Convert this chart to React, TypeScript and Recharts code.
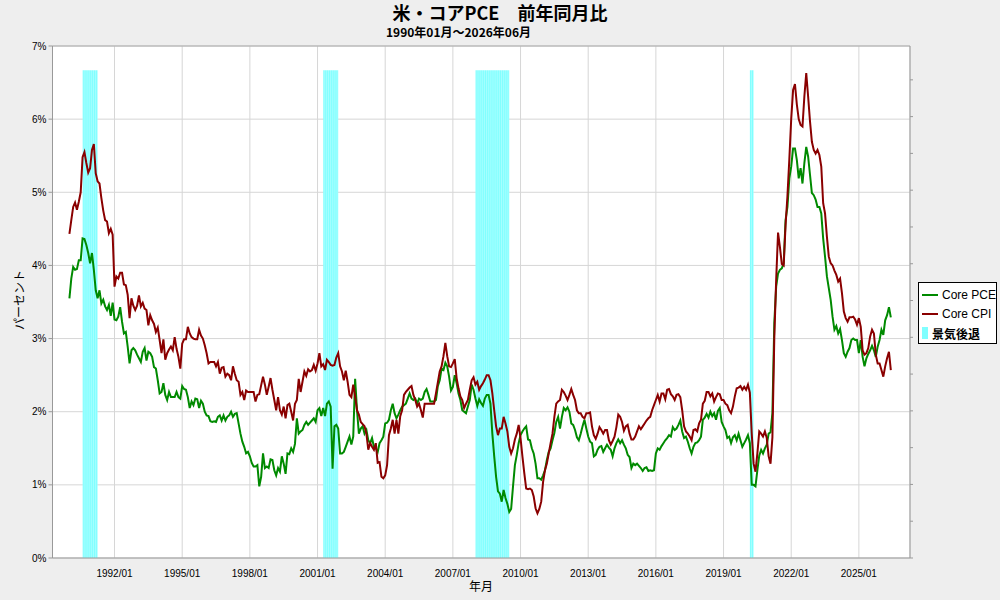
import React from 'react';
import { ComposedChart, Line, XAxis, YAxis, CartesianGrid, ReferenceArea, ReferenceLine } from 'recharts';

const startYear = 1990;

// 前年同月比 (%), 1990/01 から月次
const corePce = [
  3.55, 3.82, 3.98, 3.94, 3.95, 4.07, 4.07, 4.37, 4.36, 4.28, 4.17, 4.03, // 1990
  4.17, 3.94, 3.66, 3.55, 3.66, 3.48, 3.53, 3.44, 3.39, 3.46, 3.31, 3.49, // 1991
  3.26, 3.25, 3.30, 3.43, 3.23, 3.07, 3.09, 2.89, 2.66, 2.84, 2.87, 2.84, // 1992
  2.78, 2.73, 2.68, 2.82, 2.87, 2.70, 2.82, 2.80, 2.75, 2.61, 2.59, 2.43, // 1993
  2.25, 2.27, 2.39, 2.23, 2.16, 2.27, 2.20, 2.20, 2.20, 2.27, 2.20, 2.18, // 1994
  2.35, 2.31, 2.30, 2.20, 2.05, 2.14, 2.09, 2.18, 2.17, 2.05, 2.15, 2.11, // 1995
  2.00, 1.95, 1.94, 1.87, 1.86, 1.87, 1.86, 1.93, 1.95, 1.88, 1.95, 1.88, // 1996
  1.93, 1.95, 2.00, 1.93, 1.97, 1.98, 1.84, 1.70, 1.59, 1.52, 1.43, 1.45, // 1997
  1.39, 1.30, 1.25, 1.25, 1.27, 0.98, 1.11, 1.43, 1.23, 1.25, 1.23, 1.35, // 1998
  1.34, 1.20, 1.13, 1.23, 1.18, 1.39, 1.29, 1.15, 1.43, 1.42, 1.50, 1.45, // 1999
  1.56, 1.91, 1.70, 1.73, 1.75, 1.82, 1.86, 1.82, 1.85, 1.88, 1.91, 1.86, // 2000
  2.02, 2.05, 1.94, 2.05, 1.94, 2.11, 2.14, 2.07, 1.22, 1.80, 1.82, 1.77, // 2001
  1.43, 1.43, 1.45, 1.52, 1.59, 1.66, 1.55, 1.66, 2.45, 2.02, 1.70, 1.77, // 2002
  1.80, 1.70, 1.75, 1.61, 1.57, 1.64, 1.52, 1.50, 1.45, 1.57, 1.61, 1.66, // 2003
  1.84, 1.85, 1.89, 2.02, 2.11, 1.98, 1.91, 1.96, 2.02, 2.07, 2.09, 2.11, // 2004
  2.18, 2.25, 2.18, 2.16, 2.18, 2.11, 2.18, 2.16, 2.18, 2.27, 2.31, 2.23, // 2005
  2.14, 2.14, 2.14, 2.16, 2.35, 2.43, 2.59, 2.57, 2.67, 2.62, 2.48, 2.29, // 2006
  2.34, 2.50, 2.39, 2.25, 2.16, 2.02, 2.00, 1.98, 2.07, 2.16, 2.37, 2.30, // 2007
  2.18, 2.08, 2.17, 2.12, 2.08, 2.18, 2.23, 2.23, 2.11, 1.70, 1.39, 1.11, // 2008
  0.91, 0.88, 0.77, 0.93, 0.82, 0.74, 0.63, 0.67, 0.98, 1.27, 1.41, 1.57, // 2009
  1.68, 1.73, 1.77, 1.80, 1.62, 1.61, 1.50, 1.43, 1.29, 1.09, 1.09, 1.07, // 2010
  1.13, 1.20, 1.34, 1.45, 1.50, 1.61, 1.71, 1.86, 1.93, 1.77, 1.93, 2.05, // 2011
  2.02, 2.06, 2.00, 1.84, 1.82, 1.75, 1.65, 1.61, 1.70, 1.80, 1.89, 1.77, // 2012
  1.66, 1.59, 1.57, 1.39, 1.41, 1.48, 1.52, 1.53, 1.45, 1.50, 1.55, 1.51, // 2013
  1.48, 1.39, 1.50, 1.57, 1.62, 1.57, 1.61, 1.55, 1.50, 1.41, 1.38, 1.23, // 2014
  1.29, 1.27, 1.29, 1.26, 1.23, 1.19, 1.23, 1.24, 1.19, 1.20, 1.19, 1.20, // 2015
  1.43, 1.50, 1.48, 1.53, 1.57, 1.61, 1.64, 1.68, 1.66, 1.79, 1.75, 1.77, // 2016
  1.82, 1.88, 1.73, 1.64, 1.66, 1.59, 1.50, 1.43, 1.52, 1.57, 1.58, 1.61, // 2017
  1.66, 1.89, 1.92, 1.97, 1.92, 2.00, 1.94, 1.98, 1.89, 2.01, 2.05, 1.86, // 2018
  1.80, 1.75, 1.64, 1.66, 1.57, 1.65, 1.68, 1.61, 1.70, 1.61, 1.52, 1.57, // 2019
  1.62, 1.68, 1.57, 1.00, 1.00, 0.98, 1.20, 1.40, 1.48, 1.43, 1.50, 1.55, // 2020
  1.70, 1.72, 1.98, 3.21, 3.71, 3.89, 3.94, 3.96, 4.03, 4.62, 4.80, 5.19, // 2021
  5.35, 5.60, 5.60, 5.44, 5.19, 5.33, 5.12, 5.40, 5.62, 5.49, 5.24, 4.99, // 2022
  4.96, 4.90, 4.80, 4.80, 4.71, 4.37, 4.12, 3.85, 3.69, 3.53, 3.30, 3.12, // 2023
  3.17, 3.07, 3.13, 2.98, 2.80, 2.75, 2.82, 2.87, 2.98, 3.00, 2.98, 2.98, // 2024
  2.80, 2.98, 2.75, 2.62, 2.73, 2.79, 2.84, 2.90, 2.84, 2.75, 2.89, 2.98, // 2025
  3.12, 3.05, 3.25, 3.32, 3.43, 3.29, // 2026
];

const coreCpi = [
  4.43, 4.62, 4.80, 4.86, 4.76, 4.87, 5.00, 5.48, 5.55, 5.40, 5.27, 5.33, // 1990
  5.58, 5.66, 5.26, 5.15, 5.12, 4.92, 4.75, 4.62, 4.60, 4.44, 4.50, 4.42, // 1991
  3.71, 3.85, 3.82, 3.90, 3.90, 3.74, 3.73, 3.60, 3.28, 3.55, 3.45, 3.39, // 1992
  3.45, 3.59, 3.44, 3.49, 3.41, 3.39, 3.18, 3.32, 3.25, 3.20, 3.09, 3.15, // 1993
  2.98, 2.80, 2.99, 2.71, 2.80, 2.85, 2.89, 2.84, 3.02, 2.86, 2.75, 2.59, // 1994
  2.93, 2.99, 2.99, 3.16, 3.07, 3.02, 3.00, 2.99, 2.99, 3.12, 3.04, 3.00, // 1995
  2.91, 2.80, 2.66, 2.68, 2.68, 2.68, 2.62, 2.68, 2.52, 2.60, 2.61, 2.48, // 1996
  2.52, 2.50, 2.43, 2.62, 2.52, 2.43, 2.41, 2.23, 2.27, 2.16, 2.29, 2.27, // 1997
  2.27, 2.27, 2.27, 2.14, 2.23, 2.24, 2.36, 2.48, 2.37, 2.23, 2.34, 2.46, // 1998
  2.30, 2.16, 2.02, 2.20, 2.02, 1.96, 2.07, 1.91, 2.09, 2.11, 2.00, 1.88, // 1999
  2.11, 2.16, 2.45, 2.27, 2.41, 2.55, 2.49, 2.58, 2.55, 2.57, 2.64, 2.56, // 2000
  2.66, 2.80, 2.62, 2.65, 2.57, 2.71, 2.68, 2.64, 2.63, 2.64, 2.74, 2.80, // 2001
  2.62, 2.55, 2.43, 2.56, 2.41, 2.23, 2.20, 2.37, 2.21, 2.02, 1.96, 1.86, // 2002
  1.83, 1.80, 1.70, 1.48, 1.57, 1.52, 1.48, 1.57, 1.30, 1.31, 1.11, 1.09, // 2003
  1.13, 1.27, 1.68, 1.77, 1.89, 1.70, 1.89, 1.70, 1.94, 2.02, 2.23, 2.27, // 2004
  2.30, 2.33, 2.35, 2.23, 2.16, 2.07, 2.11, 2.02, 1.92, 2.11, 2.11, 2.11, // 2005
  2.11, 2.11, 2.11, 2.25, 2.40, 2.55, 2.62, 2.76, 2.94, 2.76, 2.62, 2.61, // 2006
  2.66, 2.72, 2.46, 2.32, 2.21, 2.16, 2.05, 2.11, 2.16, 2.30, 2.43, 2.47, // 2007
  2.37, 2.41, 2.30, 2.35, 2.39, 2.44, 2.50, 2.50, 2.43, 2.25, 2.02, 1.80, // 2008
  1.68, 1.77, 1.77, 1.93, 1.84, 1.73, 1.52, 1.43, 1.50, 1.62, 1.70, 1.82, // 2009
  1.64, 1.39, 1.16, 0.95, 0.94, 0.95, 0.93, 0.84, 0.68, 0.61, 0.67, 0.77, // 2010
  1.04, 1.20, 1.29, 1.43, 1.57, 1.70, 1.93, 2.11, 2.14, 2.16, 2.30, 2.27, // 2011
  2.22, 2.16, 2.23, 2.31, 2.23, 2.16, 2.02, 1.98, 1.98, 1.93, 1.91, 1.98, // 2012
  1.98, 1.99, 1.80, 1.68, 1.63, 1.70, 1.79, 1.75, 1.70, 1.75, 1.75, 1.61, // 2013
  1.55, 1.60, 1.66, 1.79, 1.96, 1.93, 1.86, 1.74, 1.80, 1.82, 1.70, 1.62, // 2014
  1.62, 1.66, 1.73, 1.80, 1.76, 1.80, 1.84, 1.88, 1.91, 1.93, 2.02, 2.09, // 2015
  2.16, 2.23, 2.14, 2.25, 2.25, 2.17, 2.30, 2.31, 2.24, 2.21, 2.16, 2.23, // 2016
  2.24, 2.20, 2.02, 1.80, 1.73, 1.70, 1.66, 1.61, 1.75, 1.76, 1.73, 1.84, // 2017
  1.89, 2.11, 2.15, 2.27, 2.27, 2.21, 2.25, 2.14, 2.20, 2.25, 2.24, 2.16, // 2018
  2.16, 2.11, 2.09, 2.02, 1.98, 2.07, 2.21, 2.32, 2.33, 2.35, 2.30, 2.34, // 2019
  2.30, 2.37, 2.26, 1.70, 1.29, 1.18, 1.43, 1.73, 1.70, 1.66, 1.73, 1.64, // 2020
  1.39, 1.29, 1.65, 3.00, 3.80, 4.45, 4.25, 4.02, 4.00, 4.55, 4.95, 5.45, // 2021
  6.00, 6.40, 6.48, 6.20, 6.00, 5.92, 5.90, 6.31, 6.63, 6.31, 5.97, 5.69, // 2022
  5.58, 5.53, 5.58, 5.51, 5.35, 4.85, 4.71, 4.39, 4.12, 4.03, 4.00, 3.93, // 2023
  3.87, 3.78, 3.82, 3.62, 3.37, 3.28, 3.23, 3.29, 3.29, 3.30, 3.26, 3.19, // 2024
  3.28, 3.16, 2.84, 2.78, 2.80, 2.87, 3.03, 3.12, 3.07, 2.78, 2.66, 2.66, // 2025
  2.57, 2.48, 2.62, 2.73, 2.82, 2.57, // 2026
];

const tickYears = [1992, 1995, 1998, 2001, 2004, 2007, 2010, 2013, 2016, 2019, 2022, 2025];
const percentTicks = [0, 1, 2, 3, 4, 5, 6, 7];
const rightTicks = [0, 1, 2, 3, 4, 5, 6, 7, 8, 9, 10, 11, 12, 13];

// 景気後退期 (開始月, 終了月)
const recessions = [
  ['1990/08', '1991/03'],
  ['2001/04', '2001/11'],
  ['2008/01', '2009/06'],
  ['2020/03', '2020/04'],
];
const recessionTop = 6.67;

const monthIndex = (s: string) => {
  const [y, m] = s.split('/').map(Number);
  return (y - startYear) * 12 + (m - 1);
};

const data = corePce.map((v, i) => ({ m: i, pce: v, cpi: coreCpi[i] }));

const tickFont = { fontSize: 10, fill: '#000', fontFamily: "'Liberation Sans', Arial, sans-serif" };
const jpFont = "'Noto Sans CJK JP', sans-serif";

const App: React.FC = () => {
  return (
    <div style={{ position: 'absolute', left: 0, top: 0, width: 1000, height: 600, background: '#eeeeee', overflow: 'hidden' }}>
      <div style={{ position: 'absolute', top: 2, left: 0, width: 1000, textAlign: 'center', fontFamily: jpFont, fontWeight: 700, fontSize: 18, lineHeight: '21px' }}>
        米・コアPCE　前年同月比
      </div>
      <div style={{ position: 'absolute', top: 25, left: 386, fontFamily: jpFont, fontWeight: 700, fontSize: 12, lineHeight: '14px' }}>
        1990年01月～2026年06月
      </div>

      <ComposedChart
        width={1000}
        height={600}
        data={data}
        margin={{ top: 46, right: 84, left: 12.5, bottom: 12 }}
      >
        <defs>
          <pattern id="recess" patternUnits="userSpaceOnUse" width={1.88} height={4}>
            <rect width={1.88} height={4} fill="#80ffff" />
            <rect x={1.35} width={0.53} height={4} fill="#c4ffff" />
          </pattern>
        </defs>
        <CartesianGrid stroke="#d6d6d6" fill="#ffffff" />
        <XAxis
          type="number"
          dataKey="m"
          domain={[-9, 447.2]}
          ticks={tickYears.map((y) => (y - startYear) * 12)}
          tickFormatter={(m: number) => `${startYear + m / 12}/01`}
          tick={tickFont}
          tickLine={false}
          tickMargin={6}
          axisLine={{ stroke: '#999' }}
          height={30}
          allowDataOverflow
        />
        <YAxis
          domain={[0, 7]}
          ticks={percentTicks}
          tickFormatter={(v: number) => `${v}%`}
          tick={tickFont}
          tickSize={4}
          tickMargin={2}
          tickLine={{ stroke: '#999' }}
          axisLine={{ stroke: '#999' }}
          width={40}
          allowDataOverflow
        />
        <YAxis
          yAxisId="r"
          orientation="right"
          domain={[0, 13.92]}
          ticks={rightTicks}
          tickFormatter={() => ''}
          tickSize={3}
          tickLine={{ stroke: '#999' }}
          axisLine={{ stroke: '#999' }}
          width={6}
          allowDataOverflow
        />
        {recessions.map(([s, e]) => (
          <ReferenceArea
            key={s}
            x1={monthIndex(s)}
            x2={monthIndex(e) + 1}
            y1={0}
            y2={recessionTop}
            fill="url(#recess)"
            fillOpacity={1}
            stroke="none"
          />
        ))}
        <ReferenceLine y={7} stroke="#aaaaaa" />
        <Line type="linear" dataKey="pce" stroke="#008a00" strokeWidth={2} dot={false} isAnimationActive={false} />
        <Line type="linear" dataKey="cpi" stroke="#8a0000" strokeWidth={2} dot={false} isAnimationActive={false} />
      </ComposedChart>

      <div style={{ position: 'absolute', top: 578, left: 0, width: 962, textAlign: 'center', fontFamily: jpFont, fontSize: 12, lineHeight: '16px' }}>
        年月
      </div>
      <div style={{ position: 'absolute', left: 18, top: 300, transform: 'translate(-50%, -50%) rotate(-90deg)', fontFamily: jpFont, fontSize: 12, whiteSpace: 'nowrap' }}>
        パーセント
      </div>

      <div style={{ position: 'absolute', left: 918, top: 282, width: 79, height: 62, boxSizing: 'border-box', border: '1px solid #000', background: '#fff', fontFamily: "'Liberation Sans', Arial, sans-serif", fontSize: 12 }}>
        {[
          { name: 'Core PCE', color: '#008a00', kind: 'line' },
          { name: 'Core CPI', color: '#8a0000', kind: 'line' },
          { name: '景気後退', color: '#80ffff', kind: 'box' },
        ].map((it, i) => (
          <div key={it.name} style={{ position: 'absolute', left: 3, top: 4 + i * 19, height: 16, display: 'flex', alignItems: 'center', whiteSpace: 'nowrap' }}>
            {it.kind === 'line' ? (
              <span style={{ display: 'inline-block', width: 16, height: 2, background: it.color, marginRight: 4 }} />
            ) : (
              <span style={{ display: 'inline-block', width: 6, height: 12, background: it.color, marginRight: 4 }} />
            )}
            <span style={it.kind === 'box' ? { fontFamily: jpFont, fontWeight: 700 } : undefined}>{it.name}</span>
          </div>
        ))}
      </div>
    </div>
  );
};

export default App;
